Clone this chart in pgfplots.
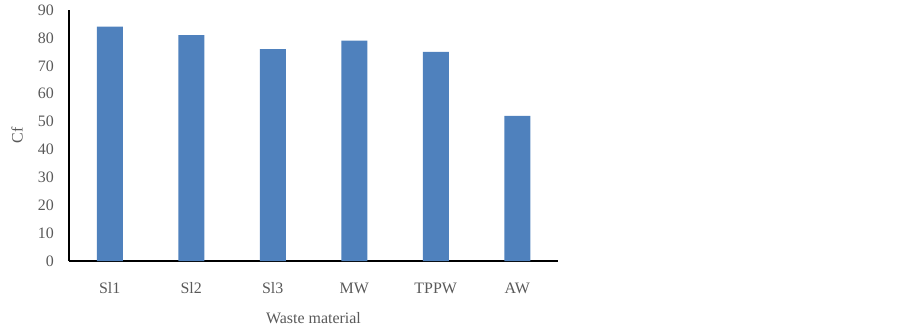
\documentclass[border=0pt]{standalone}
\usepackage{pgfplots}
\pgfplotsset{compat=1.18}
\usepackage{fontspec}
\setmainfont{Liberation Serif}
\definecolor{barblue}{HTML}{4F81BD}
\definecolor{txtgrey}{HTML}{595959}
\begin{document}
\begin{tikzpicture}
\useasboundingbox (0,0) rectangle (902bp,328bp);
\begin{axis}[
  at={(69bp,67bp)}, anchor=south west,
  scale only axis, width=489bp, height=251bp,
  ymin=0, ymax=90, ytick={0,10,...,90},
  xmin=-0.5, xmax=5.5, xtick=data,
  xticklabels={Sl1,Sl2,Sl3,MW,TPPW,AW},
  axis x line=bottom, axis y line=left,
  axis line style={-, black, line width=1.6bp},
  major tick length=0pt,
  /pgf/number format/assume math mode=true,
  tick label style={font=\fontsize{16}{18}\selectfont, text=txtgrey, inner sep=0pt},
  yticklabel style={anchor=east, xshift=-15bp},
  xticklabel style={anchor=base, yshift=-32bp},
  label style={font=\fontsize{16}{18}\selectfont, text=txtgrey, inner sep=0pt},
  xlabel={Waste material},
  xlabel style={at={(axis description cs:0.5,0)}, anchor=base, yshift=-62bp},
  ylabel={Cf},
  ylabel style={at={(axis description cs:-0.1063,0.5)}, anchor=center},
  ybar, bar width=26bp,
  clip=false,
]
\addplot[fill=barblue, draw=none] coordinates {(0,84) (1,81) (2,76) (3,79) (4,75) (5,52)};
\end{axis}
\end{tikzpicture}
\end{document}
